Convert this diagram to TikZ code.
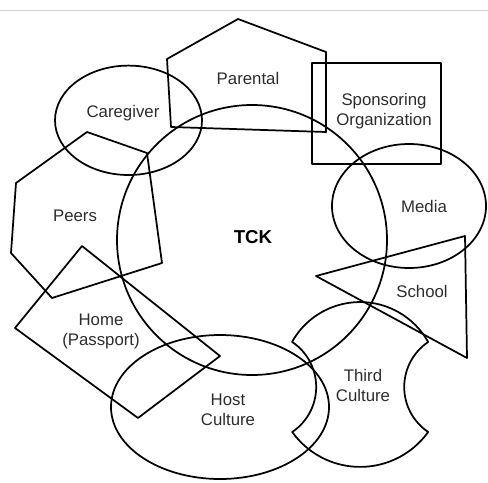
\documentclass[tikz,border=0pt]{standalone}
\usepackage{amsmath}
\usepackage{fontspec}
\setmainfont{Liberation Sans}
\usepackage{tikz}

\begin{document}
\begin{tikzpicture}[x=0.75pt,y=0.75pt,yscale=-1,xscale=1,
  outline/.style={line width=1.3pt, line join=round},
  lbl/.style={inner sep=0.75pt, align=center, font=\fontsize{12.6}{15}\selectfont, color={rgb, 255:red, 45; green, 45; blue, 45 }}]
\useasboundingbox (0,0) rectangle (488,482);

%Straight Lines [id:topRule]
\draw [color={rgb, 255:red, 215; green, 215; blue, 215 }  ,line width=1pt] (0,10.5) -- (488,10.5) ;

%Shape: Circle [id:tckCircle]
\draw [outline] (252,240) circle [radius=135] ;
%Shape: Ellipse [id:caregiverEllipse]
\draw [outline] (128.5,120.3) ellipse [x radius=73.5, y radius=54.7] ;
%Shape: Pentagon [id:parentalHouse]
\draw [outline] (167,59) -- (238,19) -- (326,52) -- (326,132) -- (171,127) -- cycle ;
%Shape: Rectangle [id:sponsorRect]
\draw [outline] (312,63) -- (441,63) -- (441,164) -- (312,164) -- cycle ;
%Shape: Ellipse [id:mediaEllipse]
\draw [outline] (409,206) ellipse [x radius=77, y radius=62] ;
%Shape: Triangle [id:schoolTriangle]
\draw [outline] (316,276) -- (465,236) -- (467,358) -- cycle ;
%Shape: Concave Square [id:thirdCultureShape]
\draw [outline] (292,342) arc [start angle=209.2, end angle=330.8, radius=78]
  arc [start angle=236.1, end angle=123.9, radius=54.2]
  arc [start angle=35.6, end angle=144.4, radius=83.6]
  arc [start angle=56.1, end angle=-56.1, radius=54.2] -- cycle ;
%Shape: Ellipse [id:hostEllipse]
\draw [outline] (220,407) ellipse [x radius=109, y radius=72] ;
%Shape: Diamond [id:homeDiamond]
\draw [outline] (82,246) -- (220,356) -- (138,418) -- (15,328) -- cycle ;
%Shape: Hexagon [id:peersHexagon]
\draw [outline] (87,132) -- (147,153) -- (162,263) -- (52,298) -- (11,253) -- (16,183) -- cycle ;

% Text Node
\draw (253,237) node (tck) [lbl, font=\fontsize{14}{17}\selectfont\bfseries, color=black] {TCK};
% Text Node
\draw (123,113) node (caregiver) [lbl] {Caregiver};
% Text Node
\draw (248,78) node (parental) [lbl] {Parental};
% Text Node
\draw (384,111) node (sponsoring) [lbl] {Sponsoring\\Organization};
% Text Node
\draw (424,206) node (media) [lbl] {Media};
% Text Node
\draw (422,291) node (school) [lbl] {School};
% Text Node
\draw (363,385) node (thirdCulture) [lbl] {Third\\Culture};
% Text Node
\draw (228,410) node (hostCulture) [lbl] {Host\\Culture};
% Text Node
\draw (101,331) node (home) [lbl] {Home\\(Passport)};
% Text Node
\draw (75,216) node (peers) [lbl] {Peers};
\end{tikzpicture}
\end{document}
